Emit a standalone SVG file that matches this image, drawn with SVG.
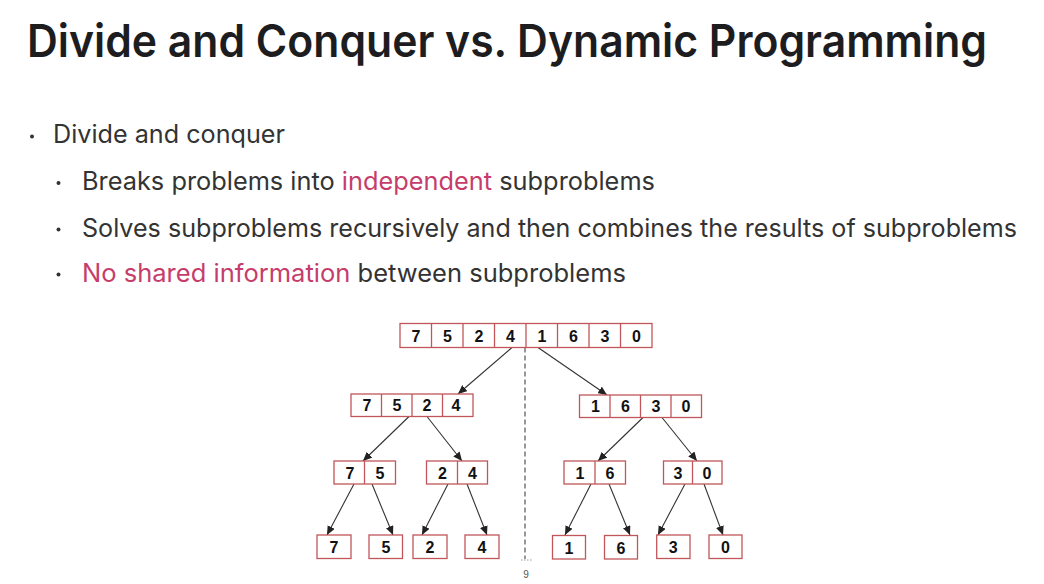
<svg xmlns="http://www.w3.org/2000/svg" width="1044" height="584" viewBox="0 0 1044 584">
<style>
.title{font-family:Inter,"Liberation Sans",sans-serif;font-weight:600;font-size:45px;fill:#1d1d1f}
.body{font-family:Inter,"Liberation Sans",sans-serif;font-weight:400;font-size:25px;fill:#333333}
.hl{fill:#c63d6b}
.dot{fill:#333333}
.box{fill:#ffffff;stroke:#c0565a;stroke-width:1.3}
.div{stroke:#c0565a;stroke-width:1.3}
.num{font-family:"Liberation Sans",Arial,sans-serif;font-weight:700;font-size:16px;fill:#111111;text-anchor:middle}
.arr{stroke:#333333;stroke-width:1.1;fill:none;marker-end:url(#ah)}
.page{font-family:"Liberation Sans",Arial,sans-serif;font-size:10px;fill:#555555;text-anchor:middle}
</style>
<defs>
<marker id="ah" markerUnits="userSpaceOnUse" markerWidth="10" markerHeight="8" refX="9" refY="4" orient="auto">
<path d="M0,0 L9,4 L0,8 Z" fill="#222222"/>
</marker>
</defs>
<rect width="1044" height="584" fill="#ffffff"/>
<g id="title">
<text class="title" x="27" y="57" textLength="960" lengthAdjust="spacingAndGlyphs">Divide and Conquer vs. Dynamic Programming</text>
</g>
<g id="bullets">
<circle class="dot" cx="32" cy="136.5" r="2"/>
<text class="body" x="53" y="143" textLength="232" lengthAdjust="spacingAndGlyphs">Divide and conquer</text>
<circle class="dot" cx="58.5" cy="183" r="2"/>
<text class="body" x="82" y="190" textLength="573" lengthAdjust="spacingAndGlyphs">Breaks problems into <tspan class="hl">independent</tspan> subproblems</text>
<circle class="dot" cx="58.5" cy="229.5" r="2"/>
<text class="body" x="82" y="236.5" textLength="935" lengthAdjust="spacingAndGlyphs">Solves subproblems recursively and then combines the results of subproblems</text>
<circle class="dot" cx="58.5" cy="274.5" r="2"/>
<text class="body" x="82" y="281.5" textLength="544" lengthAdjust="spacingAndGlyphs"><tspan class="hl">No shared information</tspan> between subproblems</text>
</g>
<g id="connectors">
<line x1="525" y1="347.5" x2="525" y2="559" stroke="#777777" stroke-width="1.5" stroke-dasharray="5,3"/>
<line x1="521" y1="560" x2="532" y2="560" stroke="#999999" stroke-width="1" stroke-dasharray="1.5,1.5"/>
<line class="arr" x1="512" y1="347.5" x2="458" y2="394"/>
<line class="arr" x1="538" y1="347.5" x2="607" y2="395"/>
<line class="arr" x1="409" y1="416.5" x2="363" y2="461"/>
<line class="arr" x1="427" y1="416.5" x2="462" y2="461"/>
<line class="arr" x1="643" y1="417.5" x2="598" y2="461"/>
<line class="arr" x1="662" y1="417.5" x2="697" y2="461"/>
<line class="arr" x1="354" y1="484" x2="327" y2="535"/>
<line class="arr" x1="372" y1="484" x2="393" y2="535"/>
<line class="arr" x1="448" y1="484" x2="422" y2="535"/>
<line class="arr" x1="467" y1="484" x2="487" y2="535"/>
<line class="arr" x1="591" y1="484" x2="565" y2="535"/>
<line class="arr" x1="609" y1="484" x2="630" y2="535"/>
<line class="arr" x1="685" y1="484" x2="658" y2="535"/>
<line class="arr" x1="704" y1="484" x2="723" y2="535"/>
</g>
<g id="n-root">
<rect class="box" x="400" y="323.5" width="252" height="24"/>
<line class="div" x1="431.5" y1="323.5" x2="431.5" y2="347.5"/>
<line class="div" x1="463" y1="323.5" x2="463" y2="347.5"/>
<line class="div" x1="494.5" y1="323.5" x2="494.5" y2="347.5"/>
<line class="div" x1="526" y1="323.5" x2="526" y2="347.5"/>
<line class="div" x1="557.5" y1="323.5" x2="557.5" y2="347.5"/>
<line class="div" x1="589" y1="323.5" x2="589" y2="347.5"/>
<line class="div" x1="620.5" y1="323.5" x2="620.5" y2="347.5"/>
<text class="num" x="416" y="341.5">7</text>
<text class="num" x="447.5" y="341.5">5</text>
<text class="num" x="479" y="341.5">2</text>
<text class="num" x="510.5" y="341.5">4</text>
<text class="num" x="542" y="341.5">1</text>
<text class="num" x="573.5" y="341.5">6</text>
<text class="num" x="605" y="341.5">3</text>
<text class="num" x="636.5" y="341.5">0</text>
</g>
<g id="n-7524">
<rect class="box" x="351" y="394" width="122" height="22.5"/>
<line class="div" x1="381.5" y1="394" x2="381.5" y2="416.5"/>
<line class="div" x1="412" y1="394" x2="412" y2="416.5"/>
<line class="div" x1="442.5" y1="394" x2="442.5" y2="416.5"/>
<text class="num" x="367" y="411">7</text>
<text class="num" x="397" y="411">5</text>
<text class="num" x="427" y="411">2</text>
<text class="num" x="456" y="411">4</text>
</g>
<g id="n-1630">
<rect class="box" x="579.5" y="395" width="122" height="22.5"/>
<line class="div" x1="610" y1="395" x2="610" y2="417.5"/>
<line class="div" x1="640.5" y1="395" x2="640.5" y2="417.5"/>
<line class="div" x1="671" y1="395" x2="671" y2="417.5"/>
<text class="num" x="595.5" y="412">1</text>
<text class="num" x="625.5" y="412">6</text>
<text class="num" x="656" y="412">3</text>
<text class="num" x="686" y="412">0</text>
</g>
<g id="n-75">
<rect class="box" x="334" y="461" width="61.5" height="23"/>
<line class="div" x1="364.5" y1="461" x2="364.5" y2="484"/>
<text class="num" x="350" y="478.5">7</text>
<text class="num" x="380" y="478.5">5</text>
</g>
<g id="n-24">
<rect class="box" x="426.5" y="461" width="61" height="23"/>
<line class="div" x1="457.5" y1="461" x2="457.5" y2="484"/>
<text class="num" x="442.5" y="478.5">2</text>
<text class="num" x="472.5" y="478.5">4</text>
</g>
<g id="n-16">
<rect class="box" x="564" y="461" width="61.5" height="23"/>
<line class="div" x1="595" y1="461" x2="595" y2="484"/>
<text class="num" x="580" y="478.5">1</text>
<text class="num" x="610" y="478.5">6</text>
</g>
<g id="n-30">
<rect class="box" x="663.5" y="461" width="58.5" height="23"/>
<line class="div" x1="692.5" y1="461" x2="692.5" y2="484"/>
<text class="num" x="678" y="478.5">3</text>
<text class="num" x="707" y="478.5">0</text>
</g>
<g id="n-7"><rect class="box" x="317" y="535" width="34" height="23.5"/><text class="num" x="334" y="553">7</text></g>
<g id="n-5"><rect class="box" x="369" y="535" width="33.5" height="23.5"/><text class="num" x="386" y="553">5</text></g>
<g id="n-2"><rect class="box" x="413" y="535" width="34" height="23.5"/><text class="num" x="430" y="553">2</text></g>
<g id="n-4"><rect class="box" x="465" y="535" width="34" height="23.5"/><text class="num" x="482" y="553">4</text></g>
<g id="n-1"><rect class="box" x="552.5" y="535.5" width="33" height="23.5"/><text class="num" x="569" y="553.5">1</text></g>
<g id="n-6"><rect class="box" x="604.5" y="535.5" width="33" height="23.5"/><text class="num" x="621" y="553.5">6</text></g>
<g id="n-3"><rect class="box" x="656.7" y="535" width="33.3" height="23.5"/><text class="num" x="673.3" y="553">3</text></g>
<g id="n-0"><rect class="box" x="709" y="535" width="33" height="23.5"/><text class="num" x="725.5" y="553">0</text></g>
<text class="page" x="526" y="578">9</text>
</svg>
